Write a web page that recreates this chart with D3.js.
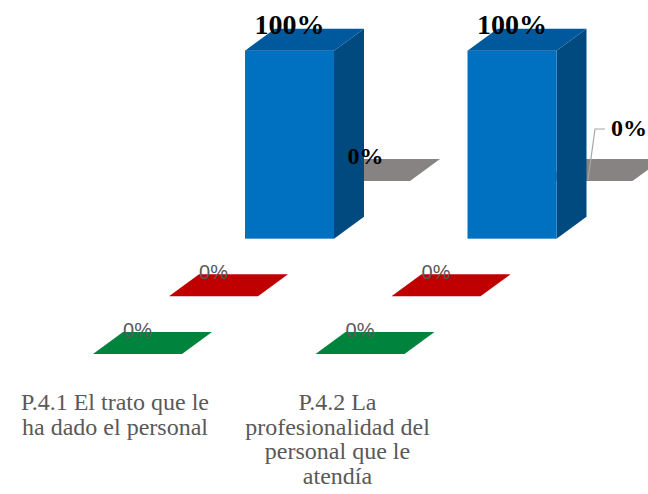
<!DOCTYPE html>
<html>
<head>
<meta charset="utf-8">
<script src="https://cdn.jsdelivr.net/npm/d3@7"></script>
<style>
  html, body { margin: 0; padding: 0; background: #ffffff; }
  svg { display: block; }
</style>
</head>
<body>
<svg id="chart" width="648" height="494"></svg>
<script>
// Categories (questions) and the four response series, front row first
const categories = [
  "P.4.1 El trato que le ha dado el personal",
  "P.4.2 La profesionalidad del personal que le atendía"
];
const seriesKeys = ["verde", "rojo", "azul", "gris"];
const verde = [0, 0];
const rojo = [0, 0];
const azul = [1, 1];
const gris = [0, 0];
const seriesValues = { verde, rojo, azul, gris };

const svg = d3.select("#chart");

// Colours per series: front face, top face, side face
const palette = {
  azul:  { front: "#0070c0", top: "#00599c", side: "#004a80" },
  gris:  { front: "#7f7b7a", top: "#878382", side: "#6e6a69" },
  rojo:  { front: "#a80000", top: "#c00000", side: "#9a0000" },
  verde: { front: "#006f33", top: "#00843d", side: "#006630" }
};

// Label styles per series
const labelStyle = {
  azul:  { family: "'Liberation Serif','Times New Roman',serif", size: 28, weight: "bold", fill: "#000000" },
  gris:  { family: "'Liberation Serif','Times New Roman',serif", size: 24, weight: "bold", fill: "#000000" },
  rojo:  { family: "'Liberation Sans',Arial,sans-serif", size: 20, weight: "normal", fill: "#595959" },
  verde: { family: "'Liberation Sans',Arial,sans-serif", size: 20, weight: "normal", fill: "#595959" }
};

// Category positions along the front edge
const x = d3.scaleBand()
  .domain(categories)
  .range([93, 93 + 2 * 222.5])
  .paddingInner(0)
  .paddingOuter(0);

// Depth axis: each series sits one step further back
const depth = d3.scalePoint().domain(seriesKeys).range([0, 3]);
const depthX = d3.scaleLinear().domain([0, 3]).range([0, 228]);
const depthY = d3.scaleLinear().domain([0, 3]).range([354, 181]);

// Bar height from value
const h = d3.scaleLinear().domain([0, 1]).range([0, 188]);

const barW = 89;      // front face width
const offX = 30;      // bar depth, horizontal
const offY = 22;      // bar depth, vertical
const pct = d3.format(".0%");

const rows = [];
seriesKeys.forEach(key => {
  categories.forEach((cat, i) => {
    const d = depth(key);
    rows.push({
      key, cat, i,
      value: seriesValues[key][i],
      x0: x(cat) + depthX(d),
      yb: depthY(d)
    });
  });
});

// Draw from back to front
const drawOrder = rows.slice().sort((a, b) => depth(b.key) - depth(a.key) || a.i - b.i);

const bars = svg.append("g").attr("class", "bars");
drawOrder.forEach(r => {
  const c = palette[r.key];
  const hh = h(r.value);
  const xl = r.x0, xr = r.x0 + barW, yb = r.yb, yt = r.yb - hh;
  const g = bars.append("g");
  if (hh > 0) {
    // side face
    g.append("path")
      .attr("d", d3.line()([[xr, yb], [xr, yt], [xr + offX, yt - offY], [xr + offX, yb - offY]]) + "Z")
      .attr("fill", c.side);
    // front face
    g.append("rect")
      .attr("x", xl).attr("y", yt)
      .attr("width", barW).attr("height", hh)
      .attr("fill", c.front);
  }
  // top face
  g.append("path")
    .attr("d", d3.line()([[xl, yt], [xr, yt], [xr + offX, yt - offY], [xl + offX, yt - offY]]) + "Z")
    .attr("fill", c.top);
});

// Value labels
const labels = svg.append("g").attr("class", "labels");
drawOrder.forEach(r => {
  const s = labelStyle[r.key];
  let cx = r.x0 + barW / 2;
  let by = r.yb - h(r.value) - 17;
  let anchor = "middle";
  // The last grey label is pulled up and right, with a leader line back to its bar
  if (r.key === "gris" && r.i === categories.length - 1) {
    const ax = cx, ay = r.yb - h(r.value);
    const tx = ax + 23, ty = ay - 45;
    labels.append("path")
      .attr("d", d3.line()([[ax, ay - 1], [ax + 7, ty - 7], [ax + 17, ty - 7]]))
      .attr("fill", "none")
      .attr("stroke", "#a6a6a6")
      .attr("stroke-width", 1.2);
    cx = tx; by = ty; anchor = "start";
  }
  labels.append("text")
    .attr("x", cx).attr("y", by)
    .attr("text-anchor", anchor)
    .attr("font-family", s.family)
    .attr("font-size", s.size)
    .attr("font-weight", s.weight)
    .attr("fill", s.fill)
    .text(pct(r.value));
});

// Category labels, wrapped under the front row
const catG = svg.append("g").attr("class", "categories");
const wrapWidth = 205;
categories.forEach(cat => {
  const t = catG.append("text")
    .attr("x", x(cat) + 22)
    .attr("y", 410)
    .attr("text-anchor", "middle")
    .attr("font-family", "'Liberation Serif','Times New Roman',serif")
    .attr("font-size", 24)
    .attr("fill", "#595959");
  const words = cat.split(/\s+/);
  let line = [];
  let tspan = t.append("tspan").attr("x", x(cat) + 22).attr("dy", 0);
  words.forEach(w => {
    line.push(w);
    tspan.text(line.join(" "));
    if (tspan.node().getComputedTextLength() > wrapWidth && line.length > 1) {
      line.pop();
      tspan.text(line.join(" "));
      line = [w];
      tspan = t.append("tspan").attr("x", x(cat) + 22).attr("dy", 24.5).text(w);
    }
  });
});
</script>
</body>
</html>
